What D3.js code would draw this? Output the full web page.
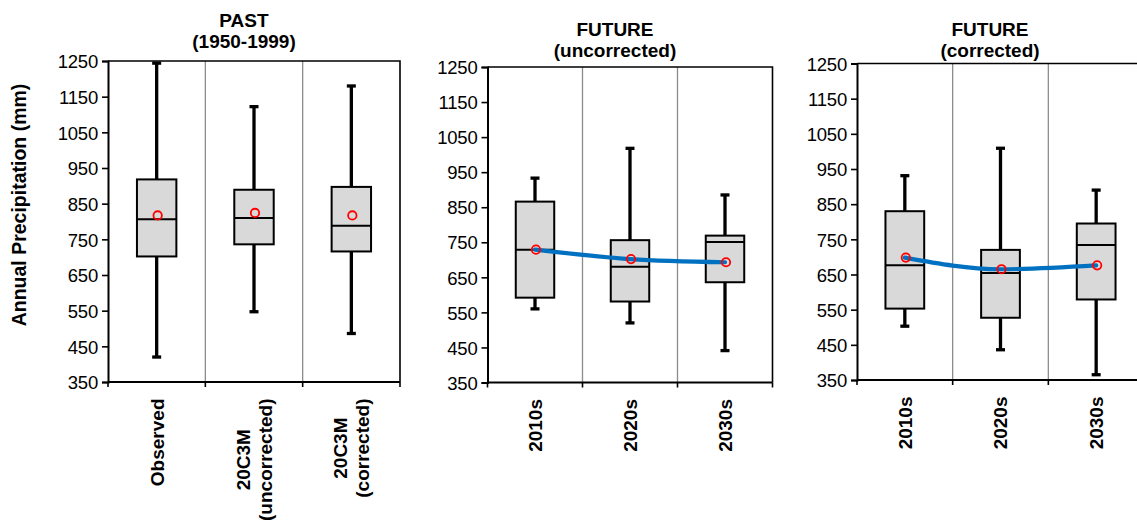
<!DOCTYPE html>
<html>
<head>
<meta charset="utf-8">
<script src="https://cdn.jsdelivr.net/npm/d3@7/dist/d3.min.js"></script>
<style>
  html, body { margin: 0; padding: 0; background: #fff; }
  svg text { font-family: "Liberation Sans", Arial, Helvetica, sans-serif; fill: #000; }
</style>
</head>
<body>
<svg id="chart" width="1137" height="526"></svg>
<script>
// ---- data -------------------------------------------------------------
const yTicks = [350, 450, 550, 650, 750, 850, 950, 1050, 1150, 1250];

const pastCategories = [["Observed"], ["20C3M", "(uncorrected)"], ["20C3M", "(corrected)"]];
const futureCategories = [["2010s"], ["2020s"], ["2030s"]];

// PAST (1950-1999)
const pastLow    = [420, 547, 486];
const pastQ1     = [702, 736, 716];
const pastMedian = [806, 810, 788];
const pastQ3     = [918, 889, 897];
const pastHigh   = [1244, 1122, 1180];
const pastMean   = [817, 824, 817];

// FUTURE (uncorrected)
const uncLow    = [560, 520, 441];
const uncQ1     = [592, 581, 636];
const uncMedian = [729, 680, 751];
const uncQ3     = [866, 756, 769];
const uncHigh   = [933, 1018, 885];
const uncMean   = [729, 702, 693];

// FUTURE (corrected)
const corLow    = [503, 436, 365];
const corQ1     = [553, 527, 579];
const corMedian = [676, 654, 734];
const corQ3     = [830, 720, 795];
const corHigh   = [931, 1009, 890];
const corMean   = [698, 665, 676];

const panelTitles = [["PAST", "(1950-1999)"], ["FUTURE", "(uncorrected)"], ["FUTURE", "(corrected)"]];
const yTitle = "Annual Precipitation (mm)";

// ---- panels ------------------------------------------------------------
function rows(cats, lo, q1, med, q3, hi, mean) {
  return cats.map((c, i) => ({ key: c.join(" "), lines: c, lo: lo[i], q1: q1[i], med: med[i], q3: q3[i], hi: hi[i], mean: mean[i] }));
}

const panels = [
  { title: panelTitles[0], data: rows(pastCategories, pastLow, pastQ1, pastMedian, pastQ3, pastHigh, pastMean),
    box: { left: 108, right: 400, top: 61, bottom: 382 }, titleX: 244, titleY: [26.5, 48], meanLine: false },
  { title: panelTitles[1], data: rows(futureCategories, uncLow, uncQ1, uncMedian, uncQ3, uncHigh, uncMean),
    box: { left: 487.5, right: 772.5, top: 67, bottom: 382.5 }, titleX: 615, titleY: [36, 57], meanLine: true },
  { title: panelTitles[2], data: rows(futureCategories, corLow, corQ1, corMedian, corQ3, corHigh, corMean),
    box: { left: 857, right: 1144, top: 63.5, bottom: 380 }, titleX: 990, titleY: [35.5, 56.5], meanLine: true }
];

const svg = d3.select("#chart");

// y axis title
svg.append("text")
  .attr("transform", "translate(26,205) rotate(-90)")
  .attr("text-anchor", "middle")
  .style("font-size", "19.5px")
  .style("font-weight", "bold")
  .text(yTitle);

panels.forEach(p => {
  const b = p.box;
  const g = svg.append("g");

  const x = d3.scaleBand().domain(p.data.map(d => d.key)).range([b.left, b.right]).padding(0);
  const y = d3.scaleLinear().domain([350, 1250]).range([b.bottom, b.top]);
  const bw = x.bandwidth() * 0.405;

  // category separators
  g.selectAll("line.sep").data(p.data.slice(1)).join("line")
    .attr("class", "sep")
    .attr("x1", d => x(d.key)).attr("x2", d => x(d.key))
    .attr("y1", b.top).attr("y2", b.bottom)
    .attr("stroke", "#8c8c8c").attr("stroke-width", 1.3);

  // frame: top and right edges
  g.append("path")
    .attr("d", `M${b.left},${b.top}H${b.right}V${b.bottom}`)
    .attr("fill", "none").attr("stroke", "#000").attr("stroke-width", 1.6);

  // y axis
  const yAxis = g.append("g").attr("transform", `translate(${b.left},0)`)
    .call(d3.axisLeft(y).tickValues(yTicks).tickSize(6).tickPadding(4).tickFormat(d3.format("d")));
  yAxis.select(".domain").attr("stroke", "#000").attr("stroke-width", 2);
  yAxis.selectAll(".tick line").attr("stroke", "#000").attr("stroke-width", 1.6);
  yAxis.selectAll(".tick text")
    .style("font-size", "18.5px").style("font-family", "'Liberation Sans', Arial, sans-serif")
    .style("letter-spacing", "-0.2px")
    .attr("fill", "#000").attr("dy", "0.36em");

  // x axis: baseline with ticks at category edges
  const edges = p.data.map(d => x(d.key)).concat([b.right]);
  g.append("line").attr("x1", b.left).attr("x2", b.right).attr("y1", b.bottom).attr("y2", b.bottom)
    .attr("stroke", "#000").attr("stroke-width", 2);
  g.selectAll("line.xt").data(edges).join("line").attr("class", "xt")
    .attr("x1", d => d).attr("x2", d => d).attr("y1", b.bottom).attr("y2", b.bottom + 5)
    .attr("stroke", "#000").attr("stroke-width", 1.6);

  // rotated category labels, top-aligned block, each line centred in the block
  const labelTop = b.bottom + 16.5;
  p.data.forEach(d => {
    const cx = x(d.key) + x.bandwidth() / 2;
    const n = d.lines.length;
    const gap = 21.5;
    const texts = d.lines.map((ln, i) => {
      const off = (i - (n - 1) / 2) * gap;
      return g.append("text")
        .attr("text-anchor", "middle")
        .attr("dy", "0.36em")
        .style("font-size", "19px").style("font-weight", "bold")
        .attr("data-x", cx + off)
        .text(ln);
    });
    const maxLen = d3.max(texts, t => t.node().getComputedTextLength());
    texts.forEach(t => {
      t.attr("transform", `translate(${+t.attr("data-x")},${labelTop + maxLen / 2}) rotate(-90)`).attr("data-x", null);
    });
  });

  // whiskers
  const wg = g.selectAll("g.whisk").data(p.data).join("g").attr("class", "whisk");
  wg.append("line")
    .attr("x1", d => x(d.key) + x.bandwidth() / 2).attr("x2", d => x(d.key) + x.bandwidth() / 2)
    .attr("y1", d => y(d.hi)).attr("y2", d => y(d.lo))
    .attr("stroke", "#000").attr("stroke-width", 3.3);
  ["hi", "lo"].forEach(k => {
    wg.append("line")
      .attr("x1", d => x(d.key) + x.bandwidth() / 2 - 4.5).attr("x2", d => x(d.key) + x.bandwidth() / 2 + 4.5)
      .attr("y1", d => y(d[k])).attr("y2", d => y(d[k]))
      .attr("stroke", "#000").attr("stroke-width", 3.3);
  });

  // boxes
  g.selectAll("rect.box").data(p.data).join("rect").attr("class", "box")
    .attr("x", d => x(d.key) + (x.bandwidth() - bw) / 2)
    .attr("width", bw)
    .attr("y", d => y(d.q3))
    .attr("height", d => y(d.q1) - y(d.q3))
    .attr("fill", "#d9d9d9").attr("stroke", "#000").attr("stroke-width", 2);

  // medians
  g.selectAll("line.med").data(p.data).join("line").attr("class", "med")
    .attr("x1", d => x(d.key) + (x.bandwidth() - bw) / 2).attr("x2", d => x(d.key) + (x.bandwidth() + bw) / 2)
    .attr("y1", d => y(d.med)).attr("y2", d => y(d.med))
    .attr("stroke", "#000").attr("stroke-width", 2);

  // line through the means
  if (p.meanLine) {
    const line = d3.line()
      .x(d => x(d.key) + x.bandwidth() / 2)
      .y(d => y(d.mean))
      .curve(d3.curveMonotoneX);
    g.append("path").datum(p.data)
      .attr("d", line)
      .attr("fill", "none").attr("stroke", "#0070c0").attr("stroke-width", 4.2).attr("stroke-linecap", "round");
  }

  // mean markers
  g.selectAll("circle.mean").data(p.data).join("circle").attr("class", "mean")
    .attr("cx", d => x(d.key) + x.bandwidth() / 2 + 1)
    .attr("cy", d => y(d.mean))
    .attr("r", 4.2)
    .attr("fill", "none").attr("stroke", "#ff0000").attr("stroke-width", 1.8);

  // panel title
  p.title.forEach((t, i) => {
    svg.append("text")
      .attr("x", p.titleX).attr("y", p.titleY[i])
      .attr("text-anchor", "middle")
      .style("font-size", "19px").style("font-weight", "bold")
      .text(t);
  });
});
</script>
</body>
</html>
